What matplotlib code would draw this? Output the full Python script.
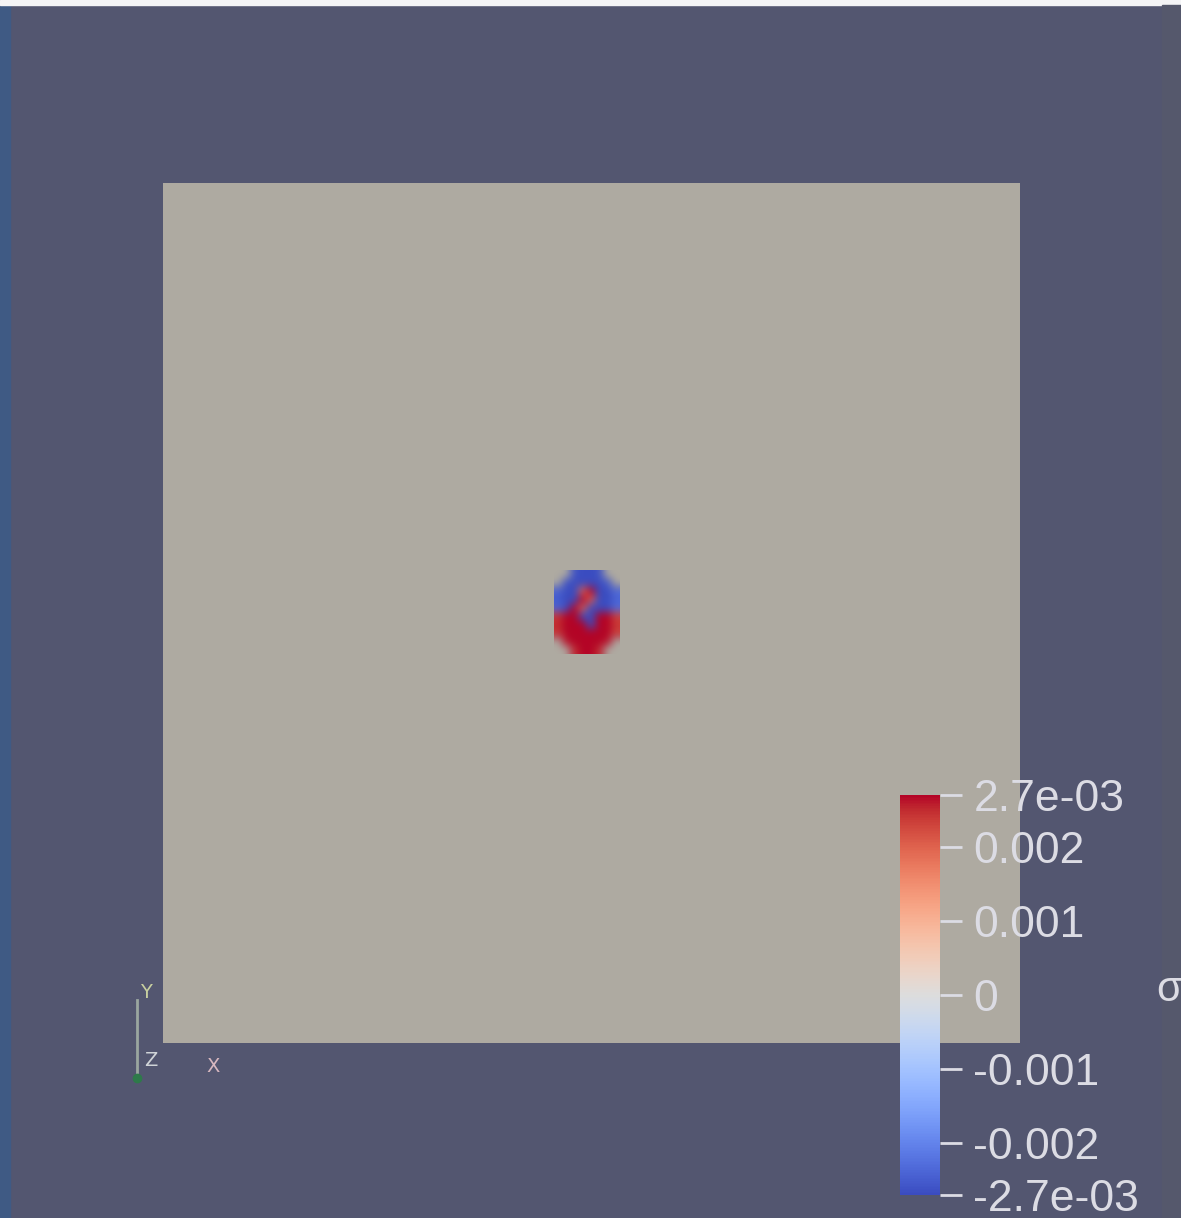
import matplotlib
matplotlib.use('Agg')
import matplotlib.pyplot as plt
import numpy as np
from matplotlib.patches import Rectangle

W, H = 1181, 1218

# stress field sampled around the inclusion (units of 1e-3), rows top -> bottom, nan = outside
nan = np.nan
sigma_patch = [
    [nan, nan, -2.6, -2.7, -2.7, -2.6, nan, nan],
    [nan, -2.6, -2.7, -2.7, -2.7, -2.7, -2.5, nan],
    [-2.4, -2.7, -2.7, 2.0, 2.7, -2.7, -2.7, -2.3],
    [-2.5, -2.7, -2.7, 2.7, 2.0, -2.7, -2.7, -2.4],
    [-2.4, -2.7, 2.7, 2.0, -2.7, -2.7, -2.7, -2.3],
    [2.4, 2.7, 2.7, -2.7, -2.7, 2.7, 2.7, 2.3],
    [2.5, 2.7, 2.7, 2.7, -2.7, 2.7, 2.7, 2.4],
    [2.4, 2.7, 2.7, 2.7, 2.7, 2.7, 2.7, 2.3],
    [nan, 2.6, 2.7, 2.7, 2.7, 2.7, 2.6, nan],
    [nan, nan, 2.5, 2.7, 2.7, 2.5, nan, nan],
]
patch_x = [0.456, 0.532]   # domain x-range covered by the patch
patch_y = [0.452, 0.549]   # domain y-range (y up)

sigma_range = [-2.7e-3, 2.7e-3]
cbar_ticks = [-2.7e-3, -0.002, -0.001, 0, 0.001, 0.002, 2.7e-3]
cbar_labels = ['-2.7e-03', '-0.002', '-0.001', '0', '0.001', '0.002', '2.7e-03']

bg = '#535670'
txt = '#dcdce4'
fontlist = ['Liberation Sans', 'DejaVu Sans']

fig = plt.figure(figsize=(W / 100, H / 100), dpi=100, facecolor=bg)

# window chrome: blue strip on the left, light line on top
fig.patches.append(Rectangle((0, 0), 10 / W, 1, transform=fig.transFigure,
                             color='#3f5a84', zorder=0))
fig.patches.append(Rectangle((0, 1 - 5 / H), 1, 5 / H, transform=fig.transFigure,
                             color='#f4f4f6', zorder=0))
fig.patches.append(Rectangle((1162 / W, 0), 19 / W, 1 - 5 / H, transform=fig.transFigure,
                             color='#55586c', zorder=0))

# the domain
ax = fig.add_axes([163 / W, 1 - 1043 / H, (1020 - 163) / W, (1043 - 183) / H])
ax.set_facecolor('#aeaaa1')
ax.set_xlim(0, 1)
ax.set_ylim(0, 1)
for s in ax.spines.values():
    s.set_visible(False)
ax.set_xticks([])
ax.set_yticks([])

vals = np.array(sigma_patch) * 1e-3
alpha = np.where(np.isnan(vals), 0.0, 1.0)
# outside cells take the colour of their half so the rim blends without a white fringe
half = np.where(np.arange(vals.shape[0])[:, None] < vals.shape[0] // 2,
                sigma_range[0], sigma_range[1]) * np.ones_like(vals)
vals = np.where(np.isnan(vals), half, vals)
im = ax.imshow(vals, cmap='coolwarm', vmin=sigma_range[0], vmax=sigma_range[1],
               extent=[patch_x[0], patch_x[1], patch_y[0], patch_y[1]], origin='upper',
               interpolation='bicubic', interpolation_stage='rgba', alpha=alpha, aspect='auto')

# colour legend
cax = fig.add_axes([900 / W, 1 - 1195 / H, 40 / W, 400 / H])
cb = fig.colorbar(im, cax=cax, ticks=cbar_ticks)
cb.outline.set_visible(False)
cb.solids.set_alpha(1)
cb.ax.set_yticklabels(cbar_labels)
cb.ax.tick_params(colors=txt, length=16, width=2, pad=8, labelsize=32)
for lab in cb.ax.get_yticklabels():
    lab.set_family(fontlist)
    lab.set_color(txt)
fig.text(1156 / W, 1 - 990 / H, 'σ', color=txt, fontsize=30, family=fontlist,
         ha='left', va='center')

# orientation triad
fig.add_artist(plt.Line2D([137 / W, 137 / W], [1 - 1000 / H, 1 - 1078 / H],
                          color='#9aa6a0', lw=2))
fig.text(140 / W, 1 - 993 / H, 'Y', color='#c8d0a0', fontsize=14, ha='left', va='center')
fig.text(144 / W, 1 - 1060 / H, 'Z', color='#d0d4d8', fontsize=14, ha='left', va='center')
fig.text(206 / W, 1 - 1066 / H, 'X', color='#d8b8c0', fontsize=14, ha='left', va='center')
fig.add_artist(plt.Line2D([137 / W], [1 - 1078 / H], marker='o', ms=6,
                          color='#2e7a4a', lw=0))

fig.savefig('out.png', dpi=100, facecolor=bg)
